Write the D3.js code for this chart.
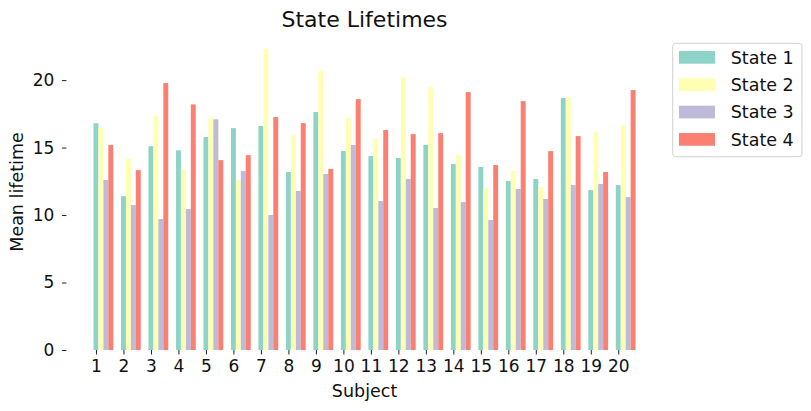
<!DOCTYPE html>
<html>
<head>
<meta charset="utf-8">
<script src="https://cdn.jsdelivr.net/npm/d3@7"></script>
<style>
  body { margin: 0; background: #fff; }
  svg { display: block; font-family: "DejaVu Sans", sans-serif; }
  .tick line { stroke: #222; }
  .tick text { font-family: "DejaVu Sans", sans-serif; }
</style>
</head>
<body>
<svg class="lifetimes" width="811" height="411"></svg>
<script>
const subjects = ["1","2","3","4","5","6","7","8","9","10","11","12","13","14","15","16","17","18","19","20"];
const states = ["State 1", "State 2", "State 3", "State 4"];
const state1 = [16.8, 11.4, 15.1, 14.8, 15.78, 16.44, 16.6, 13.19, 17.63, 14.74, 14.37, 14.22, 15.19, 13.78, 13.56, 12.52, 12.67, 18.67, 11.85, 12.22];
const state2 = [16.47, 14.15, 17.33, 13.4, 17.19, 12.6, 22.3, 15.93, 20.67, 17.19, 15.63, 20.22, 19.48, 14.44, 12.0, 13.26, 12.07, 18.74, 16.15, 16.67];
const state3 = [12.6, 10.74, 9.7, 10.44, 17.1, 13.26, 10.0, 11.78, 13.04, 15.19, 11.04, 12.67, 10.52, 10.96, 9.63, 11.93, 11.19, 12.22, 12.3, 11.33];
const state4 = [15.19, 13.33, 19.78, 18.2, 14.07, 14.44, 17.26, 16.81, 13.41, 18.59, 16.3, 16.0, 16.07, 19.11, 13.7, 18.44, 14.74, 15.85, 13.19, 19.26];
const yTicks = [0, 5, 10, 15, 20];
const colors = ["#8dd3c7", "#ffffb3", "#bebada", "#fb8072"];

document.addEventListener("DOMContentLoaded", function(){

  const svg = d3.select(".lifetimes");
  const series = [state1, state2, state3, state4];
  const barWidth = 0.18;

  const plot = { left: 66.4, right: 662.7, top: 34, bottom: 350 };

  // matplotlib-style margins: 5% on x, sticky zero on y
  const xMin = -barWidth / 2;
  const xMax = subjects.length - 1 + (states.length - 0.5) * barWidth;
  const xPad = (xMax - xMin) * 0.05;
  const x = d3.scaleLinear().domain([xMin - xPad, xMax + xPad]).range([plot.left, plot.right]);
  const yMax = d3.max(series.flat()) * 1.05;
  const y = d3.scaleLinear().domain([0, yMax]).range([plot.bottom, plot.top]);

  const rows = subjects.flatMap((s, i) => series.map((vals, k) => ({ i: i, k: k, value: vals[i] })));

  svg.append("g")
     .selectAll("rect")
     .data(rows)
     .enter()
     .append("rect")
     .attr("x", d => x(d.i + (d.k - 0.5) * barWidth))
     .attr("y", d => y(d.value))
     .attr("width", x(barWidth) - x(0))
     .attr("height", d => y(0) - y(d.value))
     .attr("fill", d => colors[d.k]);

  const xAxis = svg.append("g")
                   .attr("transform", `translate(0,${plot.bottom})`)
                   .call(d3.axisBottom(x).tickValues(d3.range(subjects.length)).tickFormat(i => subjects[i]).tickSize(4.5).tickPadding(5));
  xAxis.attr("font-family", null).attr("font-size", 17);
  xAxis.selectAll("text").attr("fill", "#111");

  const yAxis = svg.append("g")
                   .attr("transform", `translate(${plot.left},0)`)
                   .call(d3.axisLeft(y).tickValues(yTicks).tickSize(4.5).tickPadding(7.5));
  yAxis.attr("font-family", null).attr("font-size", 17);
  yAxis.selectAll("text").attr("fill", "#111");
  svg.selectAll(".domain").remove();

  svg.append("text")
     .attr("x", (plot.left + plot.right) / 2)
     .attr("y", 397)
     .attr("text-anchor", "middle")
     .attr("font-size", 17.5)
     .attr("fill", "#111")
     .text("Subject");

  svg.append("text")
     .attr("transform", `translate(23,${(plot.top + plot.bottom) / 2})rotate(-90)`)
     .attr("text-anchor", "middle")
     .attr("font-size", 17.5)
     .attr("fill", "#111")
     .text("Mean lifetime");

  svg.append("text")
     .attr("x", (plot.left + plot.right) / 2)
     .attr("y", 26.5)
     .attr("text-anchor", "middle")
     .attr("font-size", 22)
     .attr("fill", "#111")
     .text("State Lifetimes");

  // legend outside the axes
  const legend = svg.append("g").attr("transform", "translate(672.7,43.3)");
  legend.append("rect")
        .attr("width", 129.3)
        .attr("height", 113.4)
        .attr("rx", 3)
        .attr("fill", "#fff")
        .attr("stroke", "#d0d0d0");

  const items = legend.selectAll("g.item")
                      .data(states)
                      .enter()
                      .append("g")
                      .attr("class", "item")
                      .attr("transform", (d, k) => `translate(0,${14 + k * 27.35})`);
  items.append("rect")
       .attr("x", 6.3)
       .attr("y", -6.3)
       .attr("width", 36)
       .attr("height", 12.7)
       .attr("fill", (d, k) => colors[k]);
  items.append("text")
       .attr("x", 58)
       .attr("y", 6.2)
       .attr("font-size", 17.5)
       .attr("fill", "#111")
       .text(d => d);

});
</script>
</body>
</html>
